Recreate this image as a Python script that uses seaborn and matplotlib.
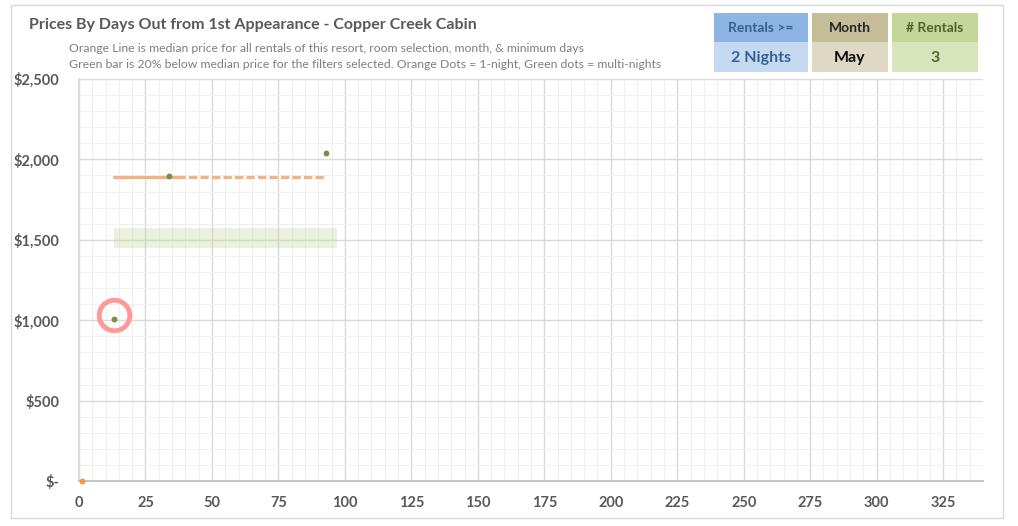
import matplotlib
matplotlib.use("Agg")
import matplotlib.pyplot as plt
from matplotlib.patches import Rectangle
from matplotlib.ticker import MultipleLocator, FuncFormatter
import pandas as pd
import seaborn as sns

# data
green_days = [13, 34, 93]
green_price = [1010, 1895, 2038]
orange_days = [1]
orange_price = [0]
median_price = 1890
median_solid_days = [13, 37]
median_dashed_days = [37, 93]
band_days = [13, 97]
band_low = 1450
band_high = 1572
highlight_day = 13
highlight_price = 1035

box_headers = ["Rentals >=", "Month", "# Rentals"]
box_values = ["2 Nights", "May", "3"]

title = "Prices By Days Out from 1st Appearance - Copper Creek Cabin"
note1 = "Orange Line is median price for all rentals of this resort, room selection, month, & minimum days"
note2 = "Green bar is 20% below median price for the filters selected. Orange Dots = 1-night, Green dots = multi-nights"

sns.set_theme(style="white")
plt.rcParams["font.family"] = ["Lato", "DejaVu Sans"]

W, H = 1018, 526
fig = plt.figure(figsize=(W / 100, H / 100), dpi=100)
ax = fig.add_axes([79 / W, 1 - 481 / H, (983 - 79) / W, (481 - 79) / H])


def px(x, y):
    # pixel (from top-left) -> figure fraction
    return x / W, 1 - y / H


# outer chart frame
fig.add_artist(Rectangle(px(11, 518), (1003 - 11) / W, (518 - 5) / H,
                         transform=fig.transFigure, fill=False,
                         edgecolor="#D9D9D9", linewidth=1))

# green band (see-through, grid shows under it)
ax.fill_between(band_days, band_low, band_high, color="#C4D79B", alpha=0.35,
                zorder=2, linewidth=0)

# median line, solid then dashed
solid = pd.DataFrame({"days": median_solid_days, "price": [median_price] * 2})
dashed = pd.DataFrame({"days": median_dashed_days, "price": [median_price] * 2})
sns.lineplot(data=solid, x="days", y="price", ax=ax, color="#F4B183",
             linewidth=2.3, zorder=3)
l = sns.lineplot(data=dashed, x="days", y="price", ax=ax, color="#F4B183",
                 linewidth=2.3, zorder=3)
l.lines[-1].set_dashes((2.6, 1.0))

# dots
green = pd.DataFrame({"days": green_days, "price": green_price})
orange = pd.DataFrame({"days": orange_days, "price": orange_price})
sns.scatterplot(data=green, x="days", y="price", ax=ax, color="#77933C",
                s=18, linewidth=0, zorder=5)
sns.scatterplot(data=orange, x="days", y="price", ax=ax, color="#F79646",
                s=18, linewidth=0, zorder=5, clip_on=False)

# highlight ring
ax.plot([highlight_day], [highlight_price], marker="o", markersize=22,
        markerfacecolor="none", markeredgecolor="#FF9999",
        markeredgewidth=3.5, zorder=4)

ax.set_xlim(0, 340)
ax.set_ylim(0, 2500)
ax.xaxis.set_major_locator(MultipleLocator(25))
ax.xaxis.set_minor_locator(MultipleLocator(5))
ax.yaxis.set_major_locator(MultipleLocator(500))
ax.yaxis.set_minor_locator(MultipleLocator(100))
ax.grid(which="major", color="#D9D9D9", linewidth=1, zorder=0)
ax.grid(which="minor", color="#F0F0F0", linewidth=0.8, zorder=0)
ax.set_axisbelow(True)


def money(v, pos):
    return "$-" if v == 0 else f"${v:,.0f}"


ax.yaxis.set_major_formatter(FuncFormatter(money))
ax.set_xticks([t for t in range(0, 340, 25)])
ax.tick_params(axis="both", which="both", length=0, labelsize=10.5,
               labelcolor="#595959")
ax.tick_params(axis="y", pad=14)
ax.tick_params(axis="x", pad=11)
for lab in ax.get_xticklabels() + ax.get_yticklabels():
    lab.set_fontweight("bold")
ax.set_xlabel("")
ax.set_ylabel("")
for side in ["top", "right"]:
    ax.spines[side].set_visible(False)
ax.spines["left"].set_color("#D9D9D9")
ax.spines["bottom"].set_color("#BFBFBF")

# titles
fig.text(*px(29, 25), title, fontsize=11.5, fontweight="bold",
         color="#595959", va="center", ha="left")
fig.text(*px(69, 48), note1, fontsize=8.8, color="#7F7F7F", va="center", ha="left")
fig.text(*px(69, 64), note2, fontsize=8.8, color="#7F7F7F", va="center", ha="left")

# filter boxes
box_x = [(714, 808), (812, 888), (892, 978)]
head_colors = ["#8DB4E2", "#C4BD97", "#C4D79B"]
val_colors = ["#C5D9F1", "#DDD9C4", "#D8E4BC"]
text_colors = ["#366092", "#262626", "#4F6228"]
val_text_colors = ["#366092", "#0D0D0D", "#4F6228"]
for (x0, x1), hc, vc, tc, vtc, h, v in zip(box_x, head_colors, val_colors,
                                          text_colors, val_text_colors,
                                          box_headers, box_values):
    fig.add_artist(Rectangle(px(x0, 42), (x1 - x0) / W, 29 / H,
                             transform=fig.transFigure, color=hc, linewidth=0))
    fig.add_artist(Rectangle(px(x0, 72), (x1 - x0) / W, 30 / H,
                             transform=fig.transFigure, color=vc, linewidth=0))
    fig.text(*px((x0 + x1) / 2, 28), h, fontsize=10, fontweight="bold",
             color=tc, ha="center", va="center")
    fig.text(*px((x0 + x1) / 2, 58), v, fontsize=11.5, fontweight="bold",
             color=vtc, ha="center", va="center")

fig.savefig("out.png", dpi=100)
